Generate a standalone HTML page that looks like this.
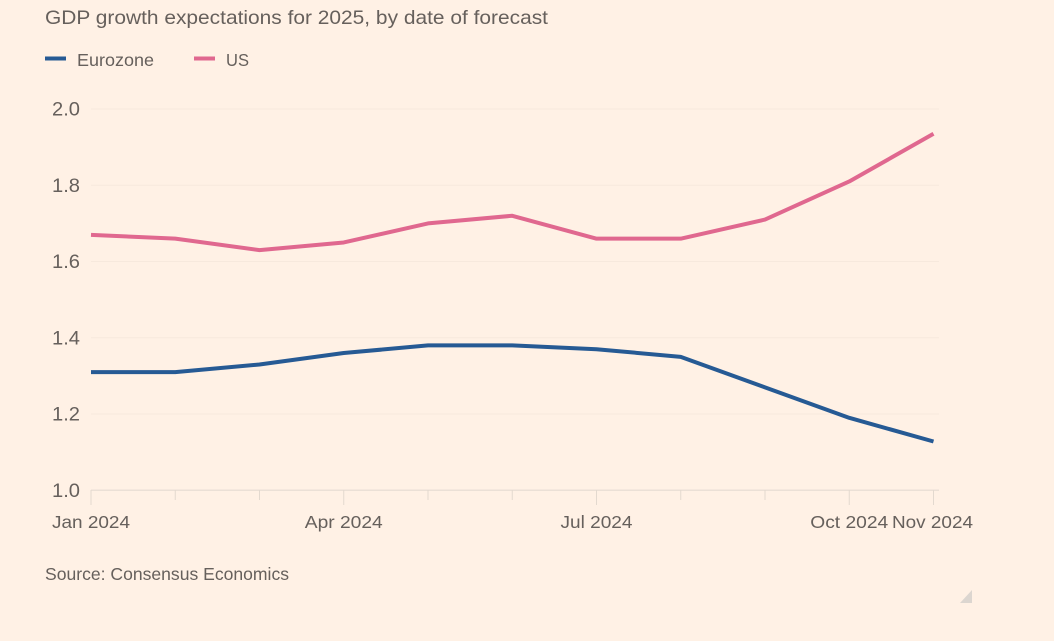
<!DOCTYPE html>
<html>
<head>
<meta charset="utf-8">
<style>
html,body{margin:0;padding:0;background:#fff1e5;}
#chart{position:absolute;left:0;top:0;width:1054px;height:641px;overflow:hidden;background:#fff1e5;}
text{font-family:"Liberation Sans",sans-serif;fill:#66605c;}
</style>
</head>
<body>
<svg id="chart" width="1054" height="641" viewBox="0 0 1054 641" xmlns="http://www.w3.org/2000/svg">
  <text x="45" y="24" font-size="19.5" textLength="503" lengthAdjust="spacingAndGlyphs">GDP growth expectations for 2025, by date of forecast</text>
  <line x1="45" x2="66" y1="58.5" y2="58.5" stroke="#265a94" stroke-width="4"/>
  <text x="77" y="66" font-size="17.5" textLength="77" lengthAdjust="spacingAndGlyphs">Eurozone</text>
  <line x1="194" x2="215" y1="58.5" y2="58.5" stroke="#e0688f" stroke-width="4"/>
  <text x="226" y="66" font-size="17.5" textLength="23" lengthAdjust="spacingAndGlyphs">US</text>
  <g id="axes"></g>
  <g id="series"></g>
  <text x="45" y="580" font-size="17.5" textLength="244" lengthAdjust="spacingAndGlyphs">Source: Consensus Economics</text>
  <polygon points="972,590 972,603 960,603" fill="#dcd6d0"/>
</svg>
<script>
const months = ['Jan 2024','Feb 2024','Mar 2024','Apr 2024','May 2024','Jun 2024','Jul 2024','Aug 2024','Sep 2024','Oct 2024','Nov 2024'];
const xTickLabels = ['Jan 2024','Apr 2024','Jul 2024','Oct 2024','Nov 2024'];
const yTicks = [1.0,1.2,1.4,1.6,1.8,2.0];
const eurozone = [1.31,1.31,1.33,1.36,1.38,1.38,1.37,1.35,1.27,1.19,1.128];
const us = [1.67,1.66,1.63,1.65,1.70,1.72,1.66,1.66,1.71,1.81,1.935];

const NS = 'http://www.w3.org/2000/svg';
const xScale = i => 91 + i * (933.5 - 91) / (months.length - 1);
const yScale = v => 490.3 - (v - 1.0) * (490.3 - 109) / (2.0 - 1.0);
const axes = document.getElementById('axes');
const seriesGroup = document.getElementById('series');

function make(tag, attrs, parent) {
  const el = document.createElementNS(NS, tag);
  for (const k in attrs) el.setAttribute(k, attrs[k]);
  parent.appendChild(el);
  return el;
}

yTicks.forEach(v => {
  const y = yScale(v);
  const grid = make('line', {x1: 91, x2: 939, y1: y, y2: y, stroke: v === 1.0 ? '#ebe0d6' : '#f7e9dd', 'stroke-width': v === 1.0 ? 1.5 : 1}, axes);
  
  
  const label = make('text', {x: 52, y: y + 6.5, 'font-size': 19, textLength: 28, lengthAdjust: 'spacingAndGlyphs'}, axes);
  label.textContent = v.toFixed(1);
  
  
});

months.forEach((m, i) => {
  const major = xTickLabels.includes(m);
  const x = xScale(i);
  const tick = make('line', {x1: x, x2: x, y1: 490, y2: major ? 505 : 500, stroke: '#e3d9cf', 'stroke-width': 1}, axes);
  
  
  if (major) {
    const last = i === months.length - 1;
    const width = last ? 81 : (m === 'Jul 2024' ? 72 : 78);
    const label = make('text', {x: last ? x + 39.5 : x, y: 528, 'font-size': 17.5, 'text-anchor': last ? 'end' : 'middle', textLength: width, lengthAdjust: 'spacingAndGlyphs'}, axes);
    label.textContent = m;
    
    
  }
});

function drawLine(values, color, name) {
  const pts = values.map((v, i) => xScale(i) + ',' + yScale(v)).join(' ');
  const line = make('polyline', {points: pts, fill: 'none', stroke: color, 'stroke-width': 4, 'stroke-linejoin': 'round'}, seriesGroup);
  
  
}
drawLine(us, '#e0688f', 'line-us');
drawLine(eurozone, '#265a94', 'line-eurozone');
</script>
</body>
</html>
